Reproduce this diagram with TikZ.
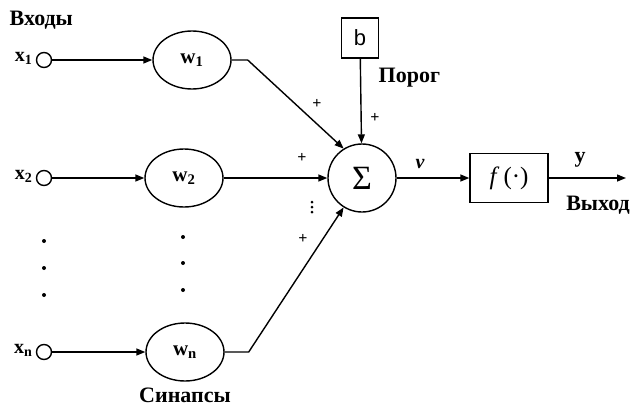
\documentclass[tikz,border=0pt]{standalone}
\usepackage{fontspec}
\setmainfont{Liberation Serif}
\newfontfamily\bsans{Liberation Sans}
\usetikzlibrary{shapes.geometric,arrows.meta}
\begin{document}
\begin{tikzpicture}[x=1pt,y=-1pt,
  line width=1.4pt,
  arr/.style={-{Triangle[length=9pt,width=7pt]}},
  inp/.style={circle,draw,minimum size=15pt,inner sep=0pt},
  syn/.style={ellipse,draw,minimum width=78pt,minimum height=58pt,inner sep=0pt,font=\bfseries\fontsize{21}{21}\selectfont},
  lbl/.style={font=\bfseries\fontsize{22}{22}\selectfont,inner sep=0pt},
  xl/.style={font=\bfseries\fontsize{20}{20}\selectfont,inner sep=0pt,anchor=east},
  pl/.style={font=\bfseries\fontsize{16}{16}\selectfont,inner sep=0pt},
  dot/.style={circle,fill,inner sep=0pt,minimum size=4pt},
  sdot/.style={circle,fill,inner sep=0pt,minimum size=3pt}
]
\useasboundingbox (0,0) rectangle (635,410);
% inputs
\node[inp] (x1) at (44,60) {};
\node[inp] (x2) at (44,178) {};
\node[inp] (xn) at (44,352) {};
\node[xl] (lx1) at (33,58) {x\textsubscript{1}};
\node[xl] (lx2) at (33,176) {x\textsubscript{2}};
\node[xl] (lxn) at (33,350) {x\textsubscript{n}};
\node[lbl,anchor=west] (vh) at (9,20) {Входы};
% synapses
\node[syn] (w1) at (192,60) {w\textsubscript{1}};
\node[syn] (w2) at (184,178) {w\textsubscript{2}};
\node[syn] (wn) at (185,352) {w\textsubscript{n}};
\node[lbl] (syn) at (185,395) {Синапсы};
% dots
\node[dot] (d1) at (44,241) {};
\node[dot] (d2) at (44,268) {};
\node[dot] (d3) at (44,295) {};
\node[dot] (e1) at (183,237) {};
\node[dot] (e2) at (183,263) {};
\node[dot] (e3) at (183,290) {};
% summation
\node[circle,draw,minimum size=68pt,inner sep=0pt,font=\fontsize{34}{34}\selectfont] (sum) at (362,178) {Σ};
\node[draw,minimum width=37pt,minimum height=40pt,inner sep=0pt,font=\bsans\fontsize{22}{22}\selectfont] (b) at (360,38) {b};
\node[lbl,anchor=west] (por) at (378,78) {Порог};
% activation
\node[draw,minimum width=78pt,minimum height=49pt,inner sep=0pt,font=\fontsize{25}{25}\selectfont] (f) at (509,178) {\textit{f}\,(·)};
\coordinate (out) at (626,178);
\node[lbl] (y) at (580,160) {y};
\node[lbl] (vyh) at (598,205) {Выход};
\node[font=\bfseries\itshape\fontsize{20}{20}\selectfont,inner sep=0pt] (v) at (420,164) {v};
% plus signs
\node[pl] (p1) at (317,104) {+};
\node[pl] (p2) at (375,118) {+};
\node[pl] (p3) at (302,158) {+};
\node[pl] (p4) at (303,239) {+};
\node[sdot] (q1) at (312,202) {};
\node[sdot] (q2) at (312,207) {};
\node[sdot] (q3) at (312,212) {};
% connectors
\draw[arr] (x1) -- (w1);
\draw[arr] (x2) -- (w2);
\draw[arr] (xn) -- (wn);
\draw[arr] (w1.east) -- ++(16,0) -- (sum.122);
\draw[arr] (w2) -- (sum);
\draw[arr] (wn.east) -- ++(24,0) -- (sum.238);
\draw[arr] (b) -- (sum);
\draw[arr] (sum) -- (f);
\draw[arr] (f) -- (out);
\end{tikzpicture}
\end{document}
